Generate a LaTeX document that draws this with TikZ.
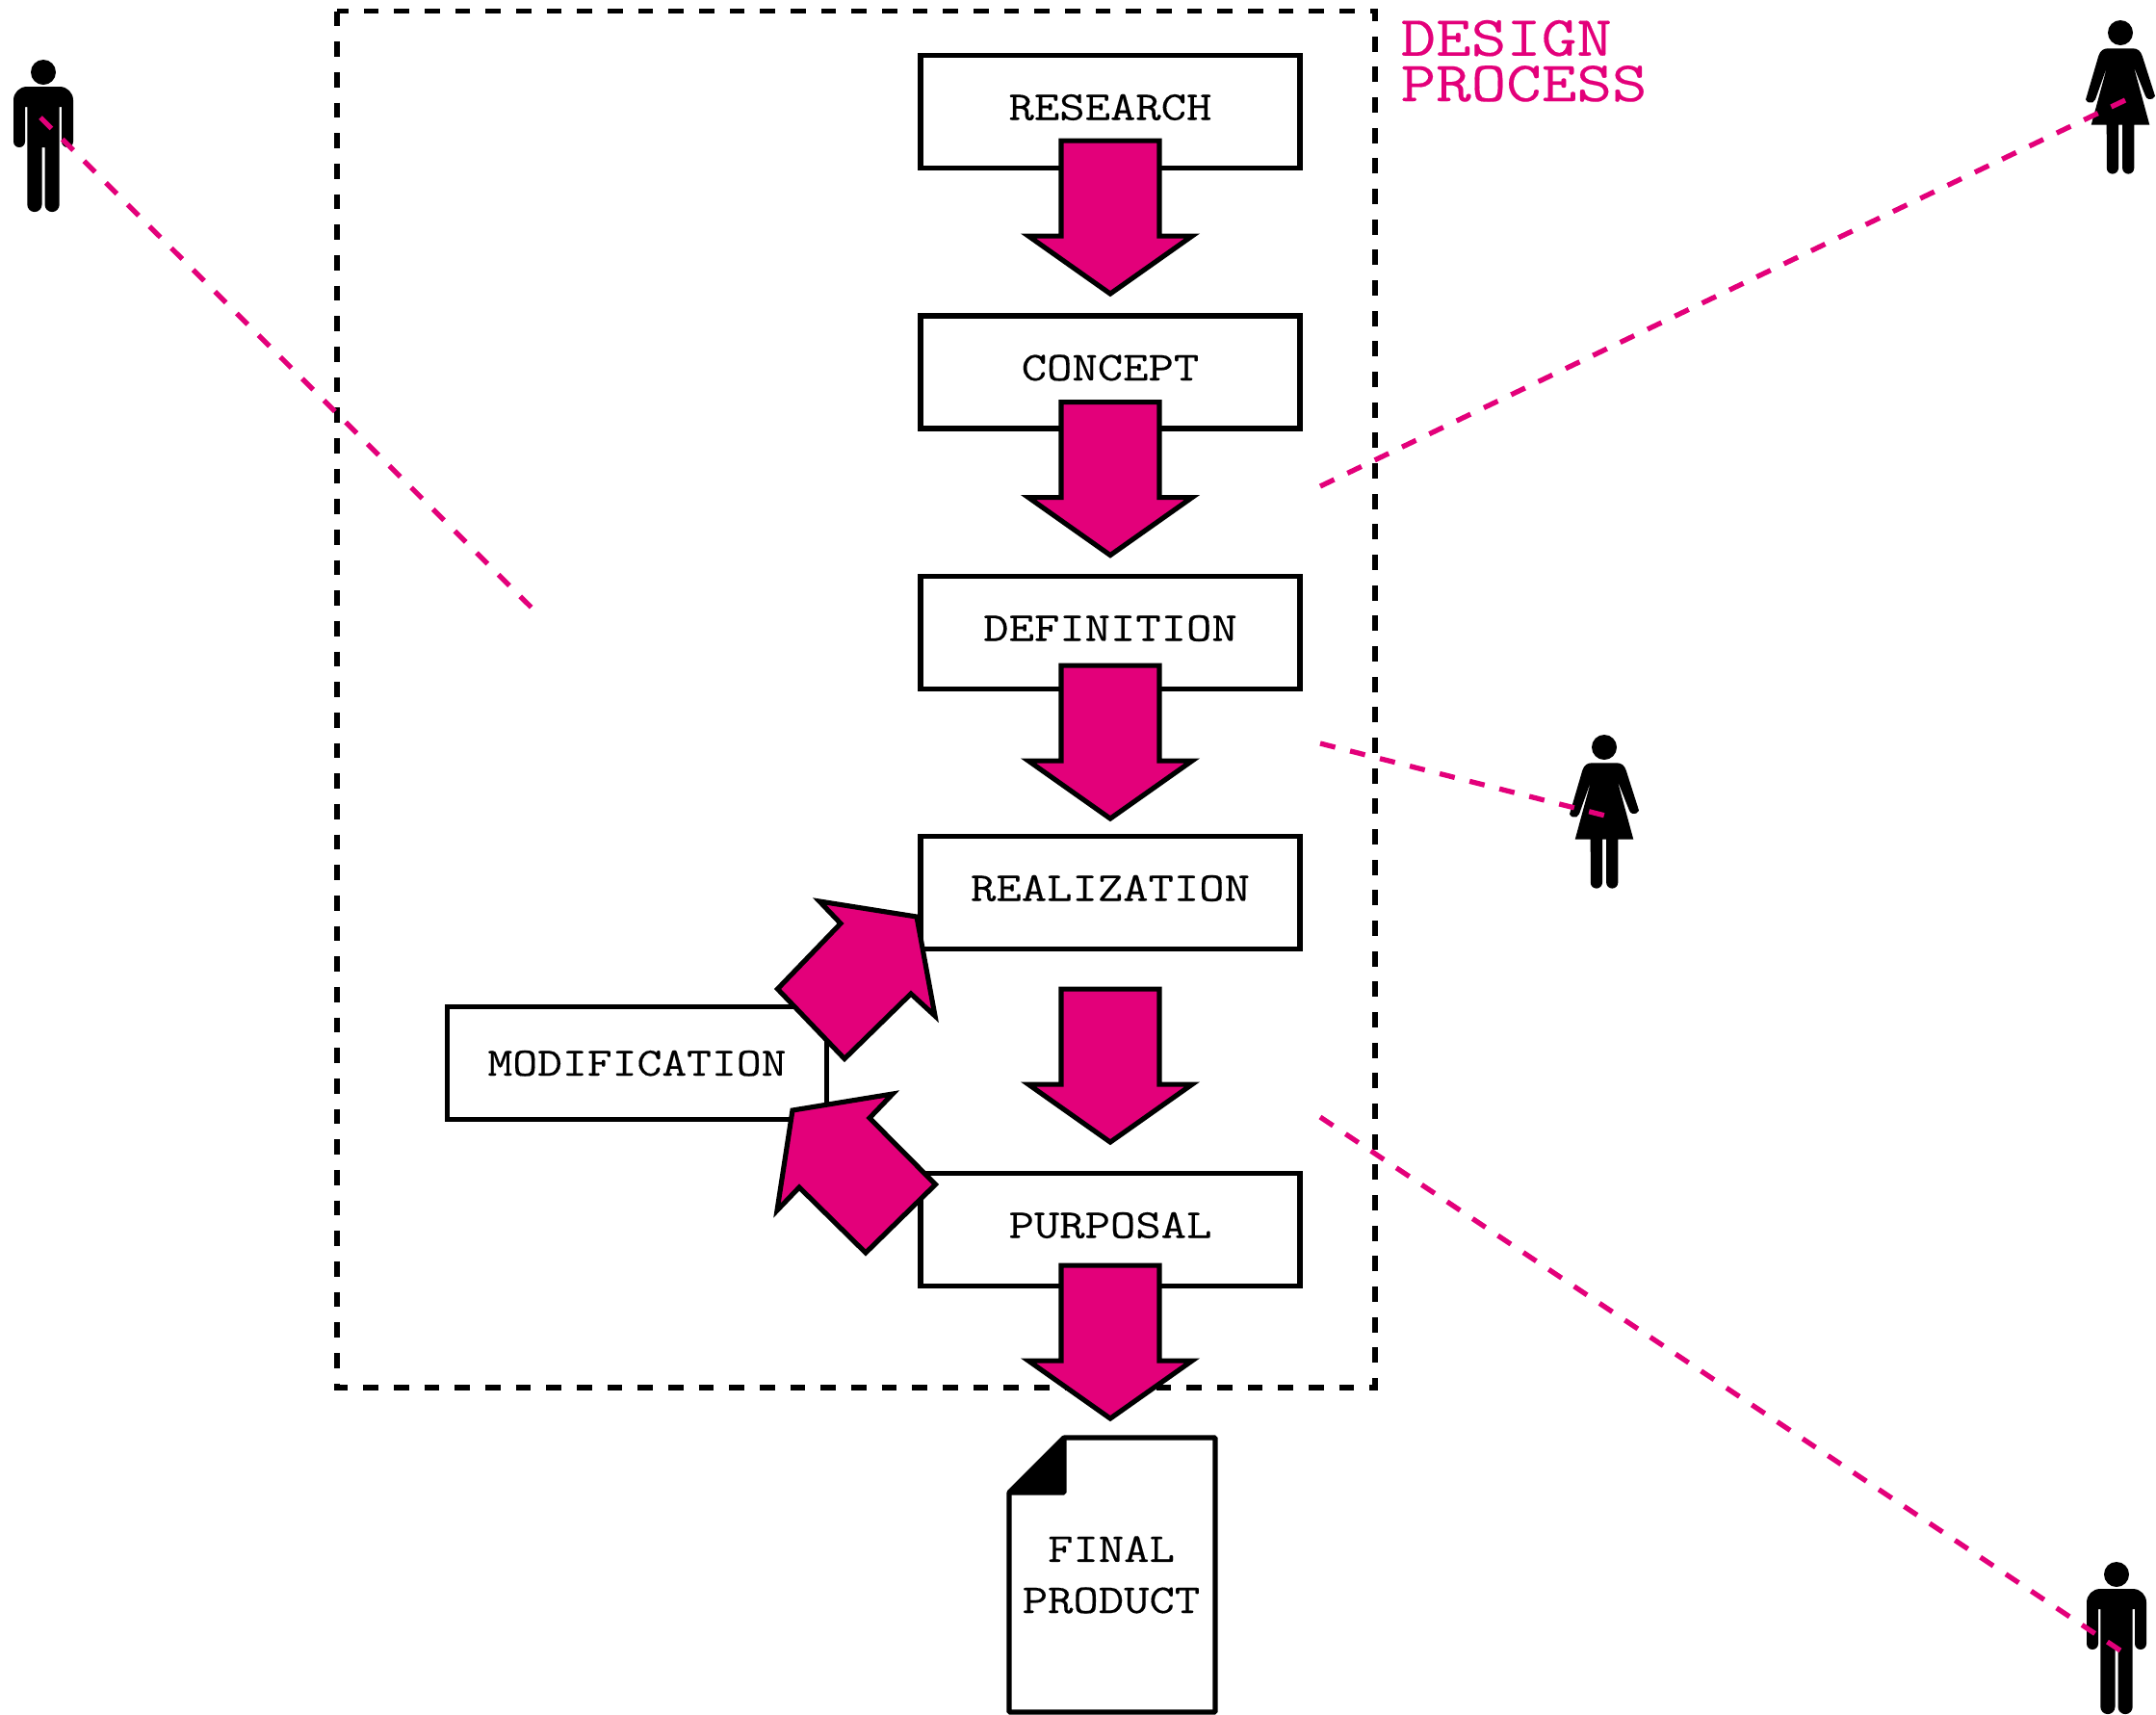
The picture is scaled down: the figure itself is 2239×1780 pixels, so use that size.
\documentclass[tikz,border=0pt]{standalone}
\usepackage{fontspec}
\newfontfamily\typefont[FakeStretch=1.2,FakeBold=0.25]{Latin Modern Mono}
\definecolor{pinkish}{RGB}{227,0,122}
\newcommand{\dnarrow}[2]{\draw[bigarrow] ([shift={(0,#2)}]#1.south) ++(-51,0) -- ++(102,0) -- ++(0,99) -- ++(34,0) -- ++(-85,60) -- ++(-85,-60) -- ++(34,0) -- cycle;}
\tikzset{
  stagebox/.style={draw=black,line width=1.85pt,fill=white,inner sep=0pt,minimum width=394*0.36pt,
    text height=67*0.36pt,text depth=50*0.36pt,font=\typefont\fontsize{15.35pt}{15.35pt}\selectfont},
  bigarrow/.style={draw=black,fill=pinkish,line width=1.85pt,miter limit=10},
  frameline/.style={draw=black,line width=1.9pt,dash pattern=on 5.7pt off 5.7pt},
  sightline/.style={draw=pinkish,line width=1.9pt,dash pattern=on 5.8pt off 5.72pt},
  man/.pic={
    \fill (0,0) circle (13);
    \fill (-31,29) arc (180:270:14) -- (17,15) arc (270:360:14) -- (31,72) arc (0:180:6) -- (19,36) -- (16.7,36) -- (16.7,137.5) arc (0:180:7.6) -- (1.5,78) -- (-1.5,78) -- (-1.5,137.5) arc (0:180:7.6) -- (-16.7,36) -- (-19,36) -- (-19,72) arc (0:180:6) -- cycle;
  },
  woman/.pic={
    \fill (0,0) circle (13);
    \fill (0,16.3) -- (13,16.3) .. controls (18,16.3) and (21,19) .. (22.7,24) -- (36,65.7) arc (20:160:5.3) -- (13.7,34.7) -- (30.3,95.7) -- (14.3,95.7) -- (14.3,140.5) arc (0:180:6.1) -- (2,95.7) -- (-2,95.7) -- (-2,140.5) arc (0:180:6.1) -- (-14.3,95.7) -- (-30.3,95.7) -- (-13.7,34.7) -- (-26,69.3) arc (20:160:5.3) -- (-22.7,24) .. controls (-21,19) and (-18,16.3) .. (-13,16.3) -- cycle;
  }
}
\begin{document}
\begin{tikzpicture}[x=0.36pt,y=-0.36pt]
\useasboundingbox (0,0) rectangle (2239,1780);
% frame
\draw[frameline] (350,11.5) rectangle (1428,1441);
\node[anchor=base west,text=pinkish,align=left,inner sep=0pt,font=\typefont\fontsize{21.3pt}{17pt}\selectfont] (title) at (1454,105) {DESIGN\\PROCESS};
% boxes
\node[stagebox] (research) at (1153,116) {RESEARCH};
\node[stagebox] (concept) at (1153,386.5) {CONCEPT};
\node[stagebox] (definition) at (1153,657) {DEFINITION};
\node[stagebox] (realization) at (1153,927) {REALIZATION};
\node[stagebox] (purposal) at (1153,1277) {PURPOSAL};
\node[stagebox,minimum width=394*0.36pt,font=\typefont\fontsize{15.05pt}{15.05pt}\selectfont,text height=71.5*0.36pt,text depth=45.5*0.36pt] (modification) at (661.5,1104) {MODIFICATION};
% arrows
\dnarrow{research}{-31}
\dnarrow{concept}{-30}
\dnarrow{definition}{-27}
\dnarrow{realization}{39}
\dnarrow{purposal}{-24}
\draw[bigarrow] (807.5,1027) -- (873,959) -- (851,936) -- (952,952) -- (971,1055) -- (946,1032) -- (877,1099.5) -- cycle;
\draw[bigarrow] (823,1153) -- (927,1136) -- (903,1161) -- (971.5,1230) -- (899,1301) -- (830,1233) -- (807,1257) -- cycle;
% document
\coordinate (docA) at (1048,1778);
\coordinate (docB) at (1048,1550);
\coordinate (docC) at (1105,1493);
\coordinate (docD) at (1262,1493);
\coordinate (docE) at (1262,1778);
\coordinate (docF) at (1105,1550);
\draw[line width=1.85pt,fill=white,line join=bevel] (docA) -- (docB) -- (docC) -- (docD) -- (docE) -- cycle;
\fill[draw=black,line width=1.85pt,line join=bevel] (docB) -- (docC) -- (docF) -- cycle;
\node[anchor=base,inner sep=0pt,font=\typefont\fontsize{15.35pt}{19.1pt}\selectfont,align=center] (final) at (1154,1675) {FINAL\\PRODUCT};
% people
\pic at (45,75) {man};
\pic at (2198,1635) {man};
\pic at (2202,34) {woman};
\pic at (1666,776) {woman};
\coordinate (s1a) at (42,122); \coordinate (s1b) at (552,631);
\coordinate (s2a) at (2207,104); \coordinate (s2b) at (1371,505);
\coordinate (s3a) at (1667,847); \coordinate (s3b) at (1371,772);
\coordinate (s4a) at (2202,1714); \coordinate (s4b) at (1371,1160);
\draw[sightline] (s1a) -- (s1b);
\draw[sightline,dash pattern=on 5.8pt off 5.51pt] (s2b) -- (s2a);
\draw[sightline] (s3b) -- (s3a);
\draw[sightline,dash pattern=on 5.8pt off 5.61pt] (s4b) -- (s4a);
\end{tikzpicture}
\end{document}
